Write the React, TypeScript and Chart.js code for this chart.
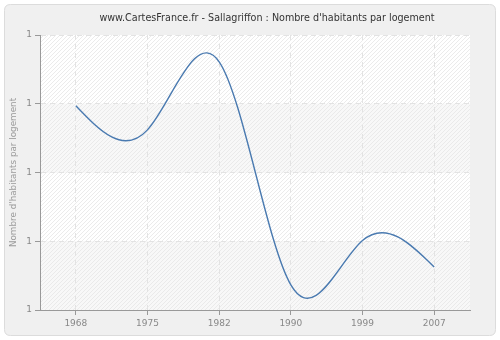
import React, { useEffect, useRef } from "react";
import { Chart, registerables } from "chart.js";

Chart.register(...registerables);

const titleText = "www.CartesFrance.fr - Sallagriffon : Nombre d'habitants par logement";
const yAxisTitle = "Nombre d'habitants par logement";
const years = ["1968", "1975", "1982", "1990", "1999", "2007"];
const habitantsParLogement = [1.594, 1.524, 1.722, 1.073, 1.202, 1.125];
const yMin = 1.0;
const yMax = 1.8;
const yStep = 0.2;

const FONT = "'DejaVu Sans', Verdana, sans-serif";

const backgroundPlugin = {
  id: "panelBackground",
  beforeDraw(chart: any) {
    const { ctx, chartArea, width, height } = chart;
    ctx.save();
    ctx.fillStyle = "#ffffff";
    ctx.fillRect(0, 0, width, height);
    // panel
    const px = 4.5, py = 4.5, pw = width - 9, ph = height - 9, r = 6;
    ctx.beginPath();
    ctx.moveTo(px + r, py);
    ctx.lineTo(px + pw - r, py);
    ctx.quadraticCurveTo(px + pw, py, px + pw, py + r);
    ctx.lineTo(px + pw, py + ph - r);
    ctx.quadraticCurveTo(px + pw, py + ph, px + pw - r, py + ph);
    ctx.lineTo(px + r, py + ph);
    ctx.quadraticCurveTo(px, py + ph, px, py + ph - r);
    ctx.lineTo(px, py + r);
    ctx.quadraticCurveTo(px, py, px + r, py);
    ctx.closePath();
    ctx.fillStyle = "#f0f0f0";
    ctx.fill();
    ctx.strokeStyle = "#dcdcdc";
    ctx.lineWidth = 1;
    ctx.stroke();

    // plot area bands
    const { left, right, top, bottom } = chartArea;
    const yScale = chart.scales.y;
    const ticks = yScale.ticks;
    for (let i = 0; i < ticks.length - 1; i++) {
      const y1 = yScale.getPixelForValue(ticks[i].value);
      const y2 = yScale.getPixelForValue(ticks[i + 1].value);
      ctx.fillStyle = i % 2 === 0 ? "#f8f8f8" : "#ffffff";
      ctx.fillRect(left, Math.min(y1, y2), right - left, Math.abs(y2 - y1));
    }
    // hatch
    ctx.beginPath();
    ctx.rect(left, top, right - left, bottom - top);
    ctx.clip();
    ctx.strokeStyle = "#e6e6e6";
    ctx.lineWidth = 0.8;
    const h = bottom - top;
    ctx.beginPath();
    for (let k = -h; k < right - left; k += 4) {
      ctx.moveTo(left + k, bottom);
      ctx.lineTo(left + k + h, top);
    }
    ctx.stroke();
    ctx.restore();
  },
  afterDraw(chart: any) {
    const { ctx } = chart;
    ctx.save();
    ctx.fillStyle = "#333333";
    ctx.font = `9.6px ${FONT}`;
    ctx.textAlign = "center";
    ctx.textBaseline = "middle";
    ctx.fillText(titleText, 267, 18);
    ctx.restore();
  },
};

// Natural cubic spline control points (computed from the scale pixels of the data)
const naturalSplinePlugin = {
  id: "naturalSpline",
  beforeDatasetDraw(chart: any, args: any) {
    const meta = args.meta;
    const line = meta.dataset;
    if (!line) return;
    line.updateControlPoints(chart.chartArea, meta.indexAxis || "x");
    const pts = meta.data;
    const n = pts.length;
    if (n < 3) return;
    const xs = pts.map((p: any) => p.x);
    const ys = pts.map((p: any) => p.y);
    const h: number[] = [];
    for (let i = 0; i < n - 1; i++) h.push(xs[i + 1] - xs[i]);
    const M = new Array(n).fill(0);
    const a: number[] = [], b: number[] = [], c: number[] = [], d: number[] = [];
    for (let i = 1; i < n - 1; i++) {
      a.push(h[i - 1]);
      b.push(2 * (h[i - 1] + h[i]));
      c.push(h[i]);
      d.push(6 * ((ys[i + 1] - ys[i]) / h[i] - (ys[i] - ys[i - 1]) / h[i - 1]));
    }
    const m = b.length;
    const cp = new Array(m).fill(0), dp = new Array(m).fill(0);
    for (let i = 0; i < m; i++) {
      const denom = b[i] - (i > 0 ? a[i] * cp[i - 1] : 0);
      cp[i] = c[i] / denom;
      dp[i] = (d[i] - (i > 0 ? a[i] * dp[i - 1] : 0)) / denom;
    }
    const sol = new Array(m).fill(0);
    for (let i = m - 1; i >= 0; i--) {
      sol[i] = dp[i] - (i < m - 1 ? cp[i] * sol[i + 1] : 0);
    }
    for (let i = 0; i < m; i++) M[i + 1] = sol[i];
    const slope: number[] = [];
    for (let i = 0; i < n - 1; i++) {
      slope.push((ys[i + 1] - ys[i]) / h[i] - (h[i] * (2 * M[i] + M[i + 1])) / 6);
    }
    slope.push(
      (ys[n - 1] - ys[n - 2]) / h[n - 2] + (h[n - 2] * (M[n - 2] + 2 * M[n - 1])) / 6
    );
    for (let i = 0; i < n; i++) {
      const p = pts[i];
      const hp = i > 0 ? h[i - 1] : 0;
      const hn = i < n - 1 ? h[i] : 0;
      p.cp1x = xs[i] - hp / 3;
      p.cp1y = ys[i] - (slope[i] * hp) / 3;
      p.cp2x = xs[i] + hn / 3;
      p.cp2y = ys[i] + (slope[i] * hn) / 3;
    }
  },
};

export default function App() {
  const canvasRef = useRef<HTMLCanvasElement | null>(null);

  useEffect(() => {
    document.body.style.margin = "0";
    const canvas = canvasRef.current;
    if (!canvas) return;
    const chart = new Chart(canvas, {
      type: "line",
      data: {
        labels: years,
        datasets: [
          {
            data: habitantsParLogement,
            borderColor: "#4a7ab0",
            borderWidth: 1.4,
            pointRadius: 0,
            pointHoverRadius: 0,
            fill: false,
            tension: 0.4,
            capBezierPoints: false,
          } as any,
        ],
      },
      options: {
        animation: false,
        responsive: false,
        maintainAspectRatio: false,
        events: [],
        layout: { padding: { left: 0, right: 30, top: 35, bottom: 0 } },
        plugins: {
          legend: { display: false },
          title: { display: false },
          tooltip: { enabled: false },
        },
        scales: {
          x: {
            type: "category",
            offset: true,
            grid: {
              display: true,
              offset: false,
              color: "#e3e3e3",
              lineWidth: 1,
              drawTicks: true,
              tickLength: 5,
              tickColor: "#999999",
              tickBorderDash: [],
            },
            border: { display: true, color: "#999999", width: 1, dash: [5, 4] },
            ticks: {
              color: "#888888",
              font: { family: FONT, size: 9 },
              padding: 3,
              maxRotation: 0,
              autoSkip: false,
            },
            afterFit(scale: any) {
              scale.height = 30;
            },
          },
          y: {
            type: "linear",
            min: yMin,
            max: yMax,
            grid: {
              display: true,
              color: "#e3e3e3",
              lineWidth: 1,
              drawTicks: true,
              tickLength: 5,
              tickColor: "#999999",
              tickBorderDash: [],
            },
            border: { display: true, color: "#999999", width: 1, dash: [5, 4] },
            ticks: {
              stepSize: yStep,
              color: "#888888",
              font: { family: FONT, size: 9 },
              padding: 3,
              callback: (v: any) => String(Math.trunc(Number(v) + 1e-9)),
            },
            title: {
              display: true,
              text: yAxisTitle,
              color: "#999999",
              font: { family: FONT, size: 8.8 },
              padding: { top: 8, bottom: 0 },
            },
            afterFit(scale: any) {
              scale.width = 40;
            },
          },
        },
      },
      plugins: [backgroundPlugin, naturalSplinePlugin],
    });
    return () => chart.destroy();
  }, []);

  return (
    <div style={{ position: "fixed", left: 0, top: 0, width: 500, height: 340 }}>
      <canvas ref={canvasRef} width={500} height={340} style={{ width: 500, height: 340 }} />
    </div>
  );
}
